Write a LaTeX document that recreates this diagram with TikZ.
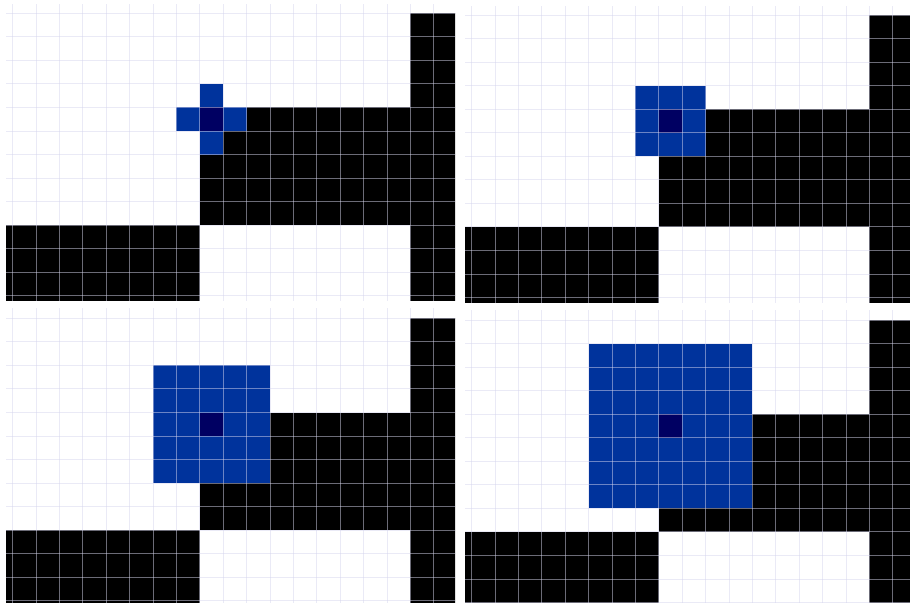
\documentclass[tikz,border=0pt]{standalone}
\usepackage{tikz}
\definecolor{kernelblue}{HTML}{00339C}
\definecolor{anchornavy}{HTML}{000062}
\definecolor{gridlav}{HTML}{D6D6EE}
\tikzset{
  inkcell/.style    = {fill=black},
  kernelcell/.style = {fill=kernelblue},
  anchorcell/.style = {fill=anchornavy},
  gridline/.style   = {draw=gridlav, draw opacity=0.5, line width=0.8pt}
}

\begin{document}
\begin{tikzpicture}[x=0.3mm, y=-0.3mm]
  \useasboundingbox (0,0) rectangle (910,603);
  \fill[white] (0,0) rectangle (910,603);
  % one panel per kernel: origin / clip box / radius / arm width
  \foreach \px/\py/\cx/\cy/\cw/\ch/\rad/\arm in {
      12.6/13.3/6/5/449/295.5/1/0,
      471.6/15/465/7/445/295/1/1,
      12.6/318.3/6/308/449/295/2/2,
      471.6/320/465/310/445/293/3/3} {
    \begin{scope}
      \clip (\cx,\cy) rectangle ++(\cw,\ch);
      \begin{scope}[shift={(\px,\py)}, x=7.02mm, y=-7.065mm]
        % binary image
        \path[inkcell] (17,0) rectangle (20,14);
        \path[inkcell] (8,4) rectangle (17,9);
        \path[inkcell] (-2,9) rectangle (8,14);
        % structuring element
        \path[kernelcell] (8-\rad,4-\arm) rectangle (9+\rad,5+\arm);
        \path[kernelcell] (8-\arm,4-\rad) rectangle (9+\arm,5+\rad);
        \path[anchorcell] (8,4) rectangle (9,5);
        % pixel grid
        \foreach \gx in {-1,...,20}
          \draw[gridline] (\gx,-2) -- (\gx,14);
        \foreach \gy in {-1,...,13}
          \draw[gridline] (-2,\gy) -- (21,\gy);
      \end{scope}
    \end{scope}
  }
\end{tikzpicture}
\end{document}
